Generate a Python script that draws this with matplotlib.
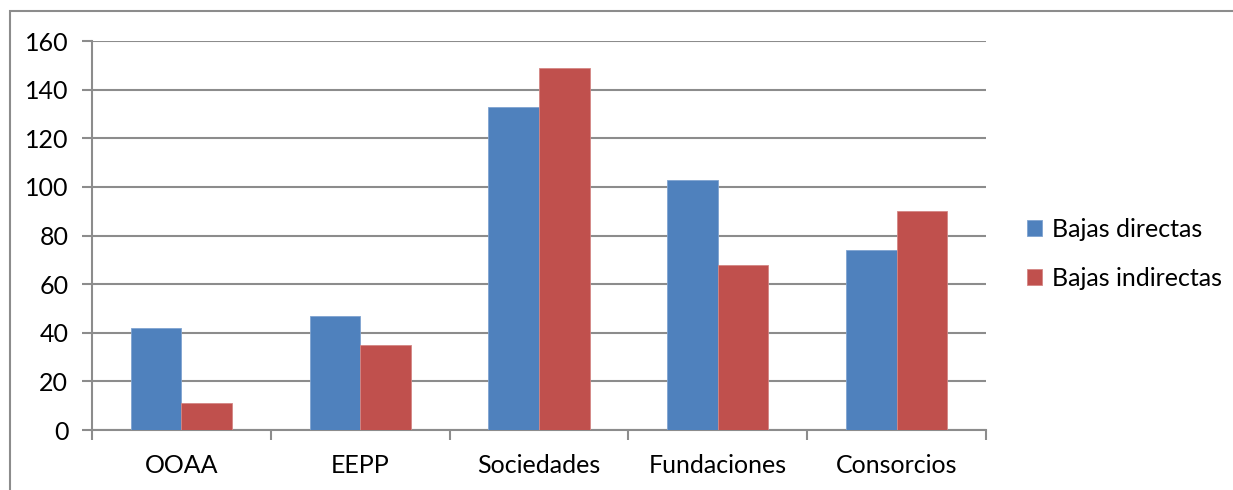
import numpy as np
import matplotlib.pyplot as plt
from matplotlib.patches import Rectangle

categorias = ['OOAA', 'EEPP', 'Sociedades', 'Fundaciones', 'Consorcios']
bajas_directas = [42, 47, 133, 103, 74]
bajas_indirectas = [11, 35, 149, 68, 90]

plt.rcParams['font.family'] = ['Lato', 'DejaVu Sans']
gris = '#8c8c8c'
fs = 18

fig = plt.figure(figsize=(12.33, 4.90), dpi=100)
ax = fig.add_axes([0.0746, 0.1224, 0.7251, 0.7939])

# marco exterior (solo se ven izquierda y arriba)
fig.patches.append(Rectangle((10 / 1233, -0.1), 1.2, 1.1 - 11 / 490,
                             transform=fig.transFigure, fill=False,
                             edgecolor=gris, linewidth=1.5))

x = np.arange(len(categorias))
w = 0.283
ax.bar(x - w / 2, bajas_directas, w, color='#4F81BD', edgecolor='#7fa3d0',
       linewidth=0.6, label='Bajas directas', zorder=3)
ax.bar(x + w / 2, bajas_indirectas, w, color='#C0504D', edgecolor='#d48684',
       linewidth=0.6, label='Bajas indirectas', zorder=3)

ax.set_xlim(-0.5, len(categorias) - 0.5)
ax.set_ylim(0, 160)
ax.set_yticks(range(0, 161, 20))
ax.yaxis.grid(True, color=gris, linewidth=1.5, zorder=0)
ax.set_axisbelow(True)

ax.set_xticks(x)
ax.set_xticklabels(categorias)
ax.set_xticks(np.arange(-0.5, len(categorias)), minor=True)
ax.tick_params(axis='x', which='major', length=0, pad=17, labelsize=fs)
ax.tick_params(axis='x', which='minor', length=7, width=1.5, color=gris)
ax.tick_params(axis='y', length=7, width=1.5, color=gris, pad=10, labelsize=fs)

for s in ['top', 'right']:
    ax.spines[s].set_visible(False)
for s in ['left', 'bottom']:
    ax.spines[s].set_color(gris)
    ax.spines[s].set_linewidth(1.5)

fig.legend(loc='center left', bbox_to_anchor=(0.815, 0.482), frameon=False,
           fontsize=fs, handlelength=0.6, handleheight=0.6, handletextpad=0.4,
           labelspacing=1.05)

fig.savefig('out.png', dpi=100)
